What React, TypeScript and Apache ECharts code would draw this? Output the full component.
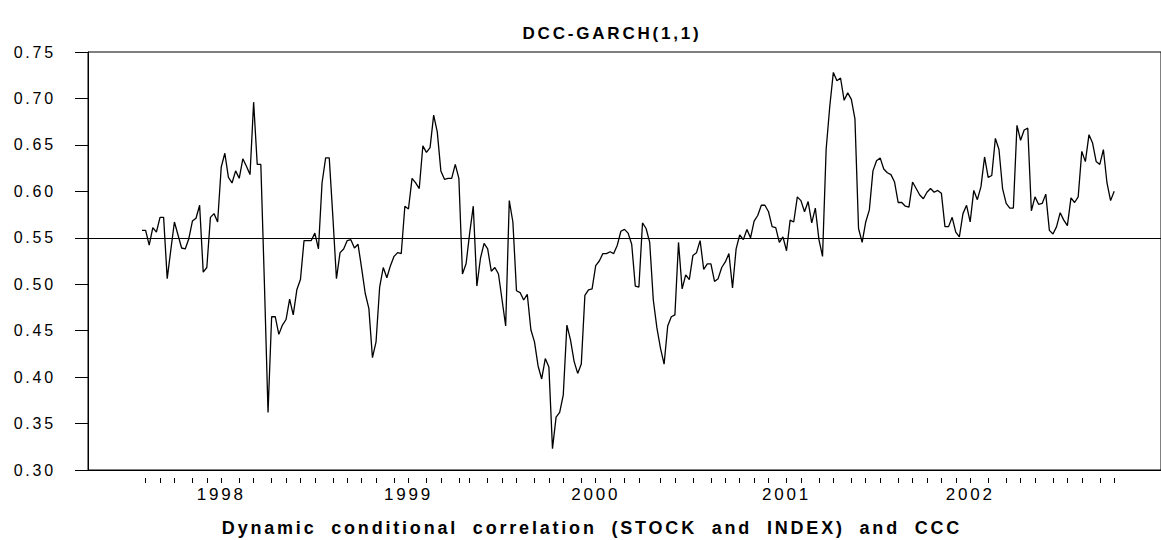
import React, { useEffect, useRef } from "react";
import * as echarts from "echarts";

// Weekly dynamic conditional correlation (STOCK and INDEX), Aug 1997 - Oct 2002
const dccValues: number[] = [
  0.558, 0.558, 0.542, 0.561, 0.556, 0.572, 0.572, 0.506, 0.537, 0.567,
  0.553, 0.539, 0.538, 0.549, 0.568, 0.571, 0.585, 0.513, 0.518, 0.572,
  0.576, 0.567, 0.626, 0.641, 0.615, 0.609, 0.622, 0.614, 0.635, 0.627,
  0.618, 0.696, 0.629, 0.629, 0.500, 0.362, 0.465, 0.465, 0.446, 0.456,
  0.462, 0.484, 0.467, 0.494, 0.505, 0.547, 0.547, 0.547, 0.555, 0.538,
  0.609, 0.636, 0.636,
  0.573, 0.506, 0.534, 0.538, 0.547, 0.548, 0.539, 0.543, 0.517, 0.490,
  0.474, 0.421, 0.438, 0.497, 0.518, 0.507, 0.520, 0.530, 0.534, 0.533,
  0.584, 0.581, 0.614, 0.609, 0.603, 0.649, 0.642, 0.647, 0.682, 0.664,
  0.622, 0.613, 0.614, 0.614, 0.629, 0.614, 0.511, 0.522, 0.555, 0.584,
  0.498, 0.528, 0.544, 0.538, 0.514, 0.518, 0.511, 0.483, 0.455, 0.590,
  0.567, 0.493, 0.491,
  0.483, 0.489, 0.451, 0.438, 0.412, 0.398, 0.420, 0.411, 0.323, 0.357,
  0.362, 0.381, 0.456, 0.440, 0.417, 0.404, 0.414, 0.488, 0.494, 0.495,
  0.520, 0.525, 0.533, 0.533, 0.535, 0.533, 0.542, 0.557, 0.559, 0.555,
  0.543, 0.498, 0.497, 0.566, 0.560, 0.545, 0.483, 0.453, 0.431, 0.414,
  0.455, 0.465, 0.467, 0.545, 0.495, 0.510, 0.505, 0.531, 0.534, 0.547,
  0.516, 0.522, 0.522,
  0.503, 0.506, 0.518, 0.524, 0.533, 0.496, 0.538, 0.553, 0.548, 0.559,
  0.550, 0.568, 0.574, 0.585, 0.585, 0.578, 0.562, 0.561, 0.545, 0.551,
  0.536, 0.569, 0.567, 0.594, 0.590, 0.578, 0.589, 0.566, 0.582, 0.548,
  0.530, 0.645, 0.691, 0.728, 0.719, 0.722, 0.698, 0.706, 0.699, 0.678,
  0.560, 0.545, 0.567, 0.580, 0.622, 0.633, 0.636, 0.624, 0.620, 0.618,
  0.610, 0.588, 0.588,
  0.584, 0.583, 0.610, 0.603, 0.596, 0.592, 0.599, 0.603, 0.599, 0.601,
  0.598, 0.562, 0.562, 0.572, 0.556, 0.551, 0.576, 0.585, 0.567, 0.601,
  0.591, 0.605, 0.637, 0.615, 0.617, 0.657, 0.645, 0.603, 0.587, 0.582,
  0.582, 0.671, 0.655, 0.666, 0.668, 0.579, 0.594, 0.586, 0.587, 0.597,
  0.558, 0.554, 0.562, 0.577, 0.569, 0.563, 0.593, 0.588, 0.594, 0.643,
  0.632, 0.661, 0.652, 0.632, 0.629, 0.645, 0.609, 0.590, 0.600,
];

// Constant conditional correlation (CCC)
const cccValue = 0.552;

// Observation index of the first week of each month (tick marks)
const monthTickIndex: number[] = [
  1, 5, 9, 14, 18, 22, 27, 31, 36, 40, 44, 48, 53, 57, 61, 65, 70, 74, 79, 83,
  88, 91, 96, 100, 104, 109, 113, 117, 122, 126, 130, 134, 138, 144, 148, 153,
  158, 162, 166, 170, 174, 179, 183, 188, 192, 197, 201, 205, 210, 214, 218,
  222, 226, 230, 235, 240, 244, 248, 253, 257, 261, 266, 270,
];

// Year labels and the observation index they sit on
const yearLabels: string[] = ["1998", "1999", "2000", "2001", "2002"];
const yearLabelIndex: number[] = [22, 74, 126, 179, 230];

const titleText = "DCC-GARCH(1,1)";
const xAxisTitle = "Dynamic conditional correlation (STOCK and INDEX) and CCC";

const FONT = "'Liberation Sans', Arial, Helvetica, sans-serif";

export default function App() {
  const ref = useRef<HTMLDivElement>(null);

  useEffect(() => {
    if (!ref.current) return;
    const chart = echarts.init(ref.current, undefined, { renderer: "svg" });

    const PAD_L = 15;
    const PAD_R = 13;
    const total = PAD_L + dccValues.length + PAD_R;
    const categories = Array.from({ length: total }, (_, i) => "o" + i);
    const seriesData: (number | null)[] = [
      ...Array(PAD_L).fill(null),
      ...dccValues,
      ...Array(PAD_R).fill(null),
    ];
    const tickSet = new Set(monthTickIndex.map((i) => i + PAD_L));
    const labelMap = new Map<number, string>();
    yearLabelIndex.forEach((i, k) => labelMap.set(i + PAD_L, yearLabels[k]));

    chart.setOption({
      animation: false,
      backgroundColor: "#ffffff",
      grid: {
        left: 88,
        top: 52,
        right: -1,
        bottom: 70,
        show: true,
        borderColor: "#000",
        borderWidth: 1,
        backgroundColor: "transparent",
        containLabel: false,
      },
      xAxis: [
        {
          type: "category",
          data: categories,
          boundaryGap: false,
          position: "bottom",
          axisLine: { show: true, lineStyle: { color: "#000", width: 1 } },
          axisTick: { show: false },
          axisLabel: { show: false },
          splitLine: { show: false },
        },
        {
          type: "category",
          data: categories,
          boundaryGap: false,
          position: "bottom",
          offset: 8,
          axisLine: { show: false },
          axisTick: {
            show: true,
            length: 5,
            interval: (index: number) => tickSet.has(index),
            lineStyle: { color: "#000", width: 1 },
          },
          axisLabel: {
            show: true,
            interval: (index: number) => labelMap.has(index),
            formatter: (_v: string, index: number) => labelMap.get(index) ?? "",
            margin: 8,
            color: "#000",
            fontFamily: FONT,
            fontSize: 17,
          },
          splitLine: { show: false },
        },
      ],
      yAxis: {
        type: "value",
        min: 0.3,
        max: 0.75,
        interval: 0.05,
        axisLine: { show: true, lineStyle: { color: "#000", width: 1 } },
        axisTick: { show: true, length: 13, lineStyle: { color: "#000", width: 1 } },
        axisLabel: {
          formatter: (v: number) => v.toFixed(2),
          margin: 32,
          color: "#000",
          fontFamily: FONT,
          fontSize: 16,
        },
        splitLine: { show: false },
      },
      series: [
        {
          type: "line",
          data: seriesData,
          xAxisIndex: 0,
          showSymbol: false,
          symbol: "none",
          lineStyle: { color: "#000", width: 1.3 },
          connectNulls: false,
          markLine: {
            silent: true,
            symbol: "none",
            label: { show: false },
            lineStyle: { color: "#000", width: 1, type: "solid" },
            data: [{ yAxis: cccValue }],
          },
        },
      ],
      graphic: [
        {
          type: "text",
          x: 612,
          y: 33,
          style: {
            text: titleText,
            fill: "#000",
            font: `bold 17px ${FONT}`,
            textAlign: "center",
            textVerticalAlign: "middle",
          },
        },
        {
          type: "text",
          x: 592,
          y: 528,
          style: {
            text: xAxisTitle,
            fill: "#000",
            font: `bold 18px ${FONT}`,
            textAlign: "center",
            textVerticalAlign: "middle",
          },
        },
      ],
    });

    return () => chart.dispose();
  }, []);

  return (
    <>
      <style>{`.dcc-chart svg text { letter-spacing: 2.8px; word-spacing: 7px; }`}</style>
      <div
        ref={ref}
        className="dcc-chart"
        style={{ position: "absolute", left: 0, top: 0, width: 1161, height: 540 }}
      />
    </>
  );
}
